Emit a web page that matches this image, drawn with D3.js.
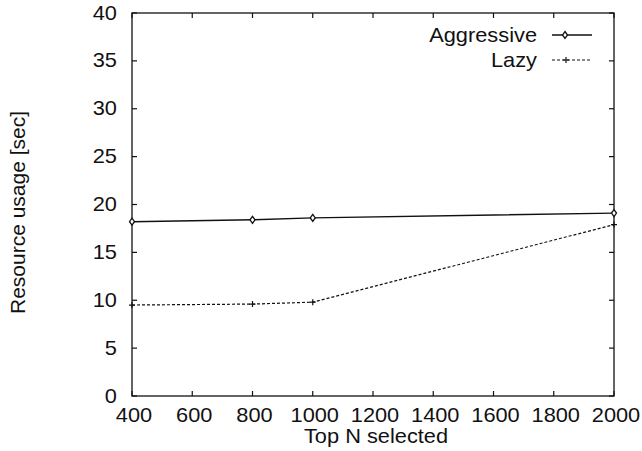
<!DOCTYPE html>
<html>
<head>
<meta charset="utf-8">
<script src="https://cdn.jsdelivr.net/npm/d3@7"></script>
<style>
  html, body { margin: 0; padding: 0; background: #fff; }
  svg text { font-family: "Liberation Sans", Arial, Helvetica, sans-serif; fill: #111; }
</style>
</head>
<body>
<svg id="chart" width="642" height="451"></svg>
<script>
// Top-N selection vs. resource usage
const topN = [400, 800, 1000, 2000];
const aggressive = [18.2, 18.4, 18.6, 19.1];
const lazy = [9.5, 9.6, 9.8, 17.9];
const xTicks = [400, 600, 800, 1000, 1200, 1400, 1600, 1800, 2000];
const yTicks = [0, 5, 10, 15, 20, 25, 30, 35, 40];
const seriesNames = ["Aggressive", "Lazy"];

const svg = d3.select("#chart");
const m = { left: 132, right: 614, top: 13, bottom: 396 };
const fs = 20;
const sx = 1.09; // slightly wide lettering

const x = d3.scaleLinear().domain([400, 2000]).range([m.left, m.right]);
const y = d3.scaleLinear().domain([0, 40]).range([m.bottom, m.top]);
const ink = "#111";

// place a horizontally widened label at (px, py)
function label(parent, px, py, txt, anchor) {
  return parent.append("text")
    .attr("transform", `translate(${px},${py}) scale(${sx},1)`)
    .attr("text-anchor", anchor).attr("font-size", fs).text(txt);
}

// frame
svg.append("rect")
  .attr("x", m.left).attr("y", m.top)
  .attr("width", m.right - m.left).attr("height", m.bottom - m.top)
  .attr("fill", "none").attr("stroke", ink).attr("stroke-width", 1.3);

// inward ticks on all four sides
const tl = 5;
const g = svg.append("g").attr("stroke", ink).attr("stroke-width", 1.2);
xTicks.forEach(t => {
  g.append("line").attr("x1", x(t)).attr("x2", x(t)).attr("y1", m.bottom).attr("y2", m.bottom - tl);
  g.append("line").attr("x1", x(t)).attr("x2", x(t)).attr("y1", m.top).attr("y2", m.top + tl);
});
yTicks.forEach(t => {
  g.append("line").attr("x1", m.left).attr("x2", m.left + tl).attr("y1", y(t)).attr("y2", y(t));
  g.append("line").attr("x1", m.right).attr("x2", m.right - tl).attr("y1", y(t)).attr("y2", y(t));
});

// tick labels
const xl = svg.append("g");
xTicks.forEach(t => label(xl, x(t) + 2, 422, t, "middle"));
const yl = svg.append("g");
yTicks.forEach(t => label(yl, 117, y(t) + 6.5, t, "end"));

// axis titles
label(svg, 376, 443, "Top N selected", "middle");
svg.append("text")
  .attr("transform", `translate(25,${(m.top + m.bottom) / 2 + 8}) rotate(-90) scale(1.05,1)`)
  .attr("text-anchor", "middle").attr("font-size", fs).text("Resource usage [sec]");

// series
const line = d3.line().x(d => x(d[0])).y(d => y(d[1]));
const aggData = topN.map((n, i) => [n, aggressive[i]]);
const lazyData = topN.map((n, i) => [n, lazy[i]]);

svg.append("path").datum(aggData).attr("d", line)
  .attr("fill", "none").attr("stroke", ink).attr("stroke-width", 1.4);
svg.append("path").datum(lazyData).attr("d", line)
  .attr("fill", "none").attr("stroke", ink).attr("stroke-width", 1.2)
  .attr("stroke-dasharray", "3,2");

function diamond(sel, cx, cy) {
  sel.append("path")
    .attr("d", `M${cx},${cy - 3.5}L${cx + 2.5},${cy}L${cx},${cy + 3.5}L${cx - 2.5},${cy}Z`)
    .attr("fill", "#fff").attr("stroke", ink).attr("stroke-width", 1.3);
}
function plus(sel, cx, cy) {
  sel.append("path")
    .attr("d", `M${cx - 3},${cy}H${cx + 3}M${cx},${cy - 3}V${cy + 3}`)
    .attr("stroke", ink).attr("stroke-width", 1.2);
}
aggData.forEach(d => diamond(svg, x(d[0]), y(d[1])));
lazyData.forEach(d => plus(svg, x(d[0]), y(d[1])));

// legend
const legY = [35, 60];
seriesNames.forEach((name, i) => {
  label(svg, 537, legY[i] + 7, name, "end");
  const ln = svg.append("line").attr("x1", 552).attr("x2", 592)
    .attr("y1", legY[i]).attr("y2", legY[i]).attr("stroke", ink);
  if (i === 0) { ln.attr("stroke-width", 1.4); diamond(svg, 565, legY[i]); }
  else { ln.attr("stroke-width", 1.2).attr("stroke-dasharray", "3,2"); plus(svg, 566, legY[i]); }
});
</script>
</body>
</html>
